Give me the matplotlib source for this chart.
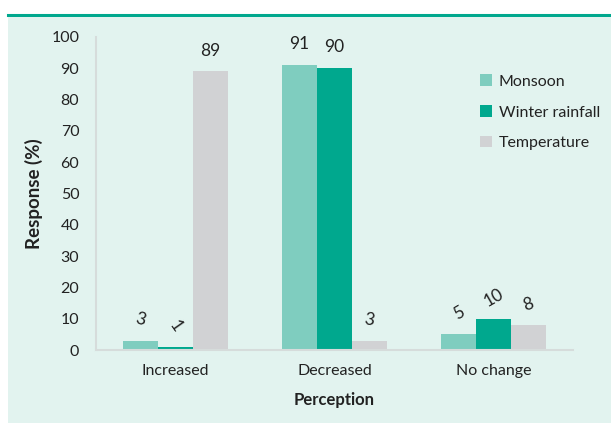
import numpy as np
import matplotlib.pyplot as plt
from matplotlib.patches import Rectangle
from matplotlib.lines import Line2D

plt.rcParams['font.family'] = ['Lato', 'DejaVu Sans']

categories = ['Increased', 'Decreased', 'No change']
series = ['Monsoon', 'Winter rainfall', 'Temperature']
monsoon = [3, 91, 5]
winter = [1, 90, 10]
temperature = [89, 3, 8]
label_rot = [[-15, 0, 30], [-55, 0, 30], [0, -10, 20]]

colors = ['#7fcdbf', '#00a88e', '#d1d2d4']
bg = '#e2f3ef'

fig = plt.figure(figsize=(6.11, 4.23), dpi=100, facecolor='white')
fig.patches.append(Rectangle((8/611, 0), 1, (423-17)/423, transform=fig.transFigure,
                             facecolor=bg, edgecolor='none', zorder=-10))
fig.lines.append(Line2D([8/611, 1], [1-15/423, 1-15/423], transform=fig.transFigure,
                        color='#00a88e', lw=2.2, zorder=-10))

ax = fig.add_axes([96/611, 73/423, 477/611, 313/423])
ax.set_zorder(1)
ax.set_facecolor('none')

x = np.arange(len(categories))
w = 0.22
for i, (vals, name) in enumerate(zip([monsoon, winter, temperature], series)):
    pos = x + (i - 1) * w
    ax.bar(pos, vals, width=w, color=colors[i], label=name, zorder=2)
    for p, v, r in zip(pos, vals, label_rot[i]):
        ax.annotate(str(v), (p, v), xytext=(0, 15), textcoords='offset points',
                    ha='center', va='center', rotation=r, fontsize=12.5, color='#222222')

ax.set_xlim(-0.5, 2.5)
ax.set_ylim(0, 100)
ax.set_yticks(range(0, 101, 10))
ax.set_xticks(x)
ax.set_xticklabels(categories)
ax.tick_params(axis='both', length=0, labelsize=11.5, colors='#222222')
ax.tick_params(axis='y', pad=12)
ax.tick_params(axis='x', pad=10)
for s in ['top', 'right']:
    ax.spines[s].set_visible(False)
for s in ['left', 'bottom']:
    ax.spines[s].set_color('#d6dcdb')
    ax.spines[s].set_linewidth(1.5)

ax.set_ylabel('Response (%)', fontsize=13.5, fontweight='bold', color='#222222', labelpad=6)
ax.set_xlabel('Perception', fontsize=12, fontweight='bold', color='#222222', labelpad=10)

leg = ax.legend(loc='upper left', bbox_to_anchor=(466/611, 1-60/423),
                bbox_transform=fig.transFigure, frameon=False, fontsize=11.5,
                handlelength=0.7, handleheight=0.7, handletextpad=0.45, labelspacing=1.05)
for t in leg.get_texts():
    t.set_color('#222222')

fig.savefig('out.png', dpi=100, facecolor='white')
